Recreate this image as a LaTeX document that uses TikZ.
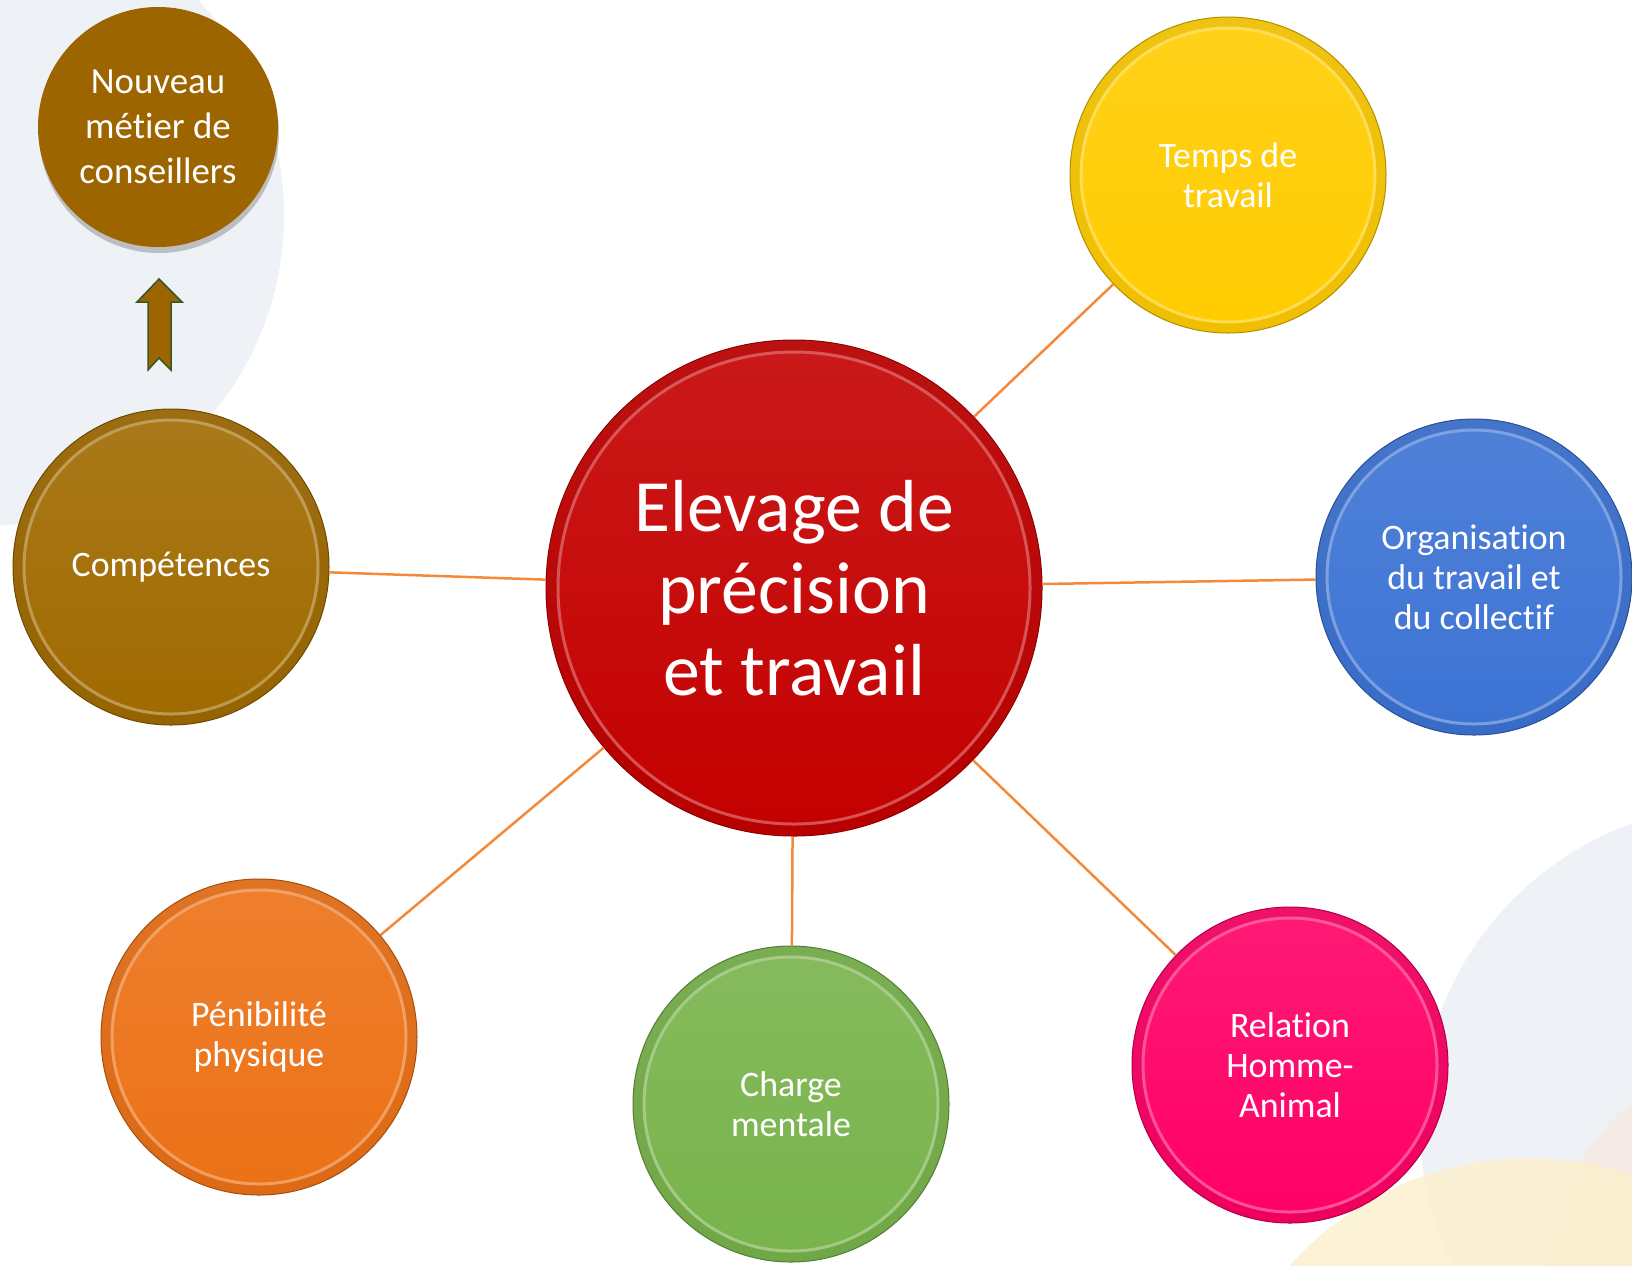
\documentclass[tikz,border=0pt]{standalone}
\usepackage{fontspec}
\setmainfont{Carlito}[Ligatures=CommonOff]
\usetikzlibrary{shadows}

\definecolor{bgblue}{HTML}{EEF2F7}
\definecolor{bgpink}{HTML}{F5EBE6}
\definecolor{bgcream}{HTML}{FCEFCC}
\definecolor{linkorange}{HTML}{F4893A}
\definecolor{centrered}{HTML}{C40000}
\definecolor{tempsyellow}{HTML}{FFCC00}
\definecolor{orgblue}{HTML}{3C73D4}
\definecolor{relpink}{HTML}{FF0066}
\definecolor{chargegreen}{HTML}{78B34B}
\definecolor{peniorange}{HTML}{EC7116}
\definecolor{compbrown}{HTML}{A06A00}
\definecolor{nouvbrown}{HTML}{9C6500}
\definecolor{arrowgreen}{HTML}{375623}

\begin{document}
\begin{tikzpicture}[x=1bp, y=-1bp,
  bubble/.style n args={3}{circle, inner sep=0pt, minimum size=#2,
    top color=#1!90!white, middle color=#1, bottom color=#1,
    draw=#1!70!black, line width=1bp, text=white, align=center,
    path picture={
      \draw[#1!80!black, line width=10bp, opacity=.3]
        (path picture bounding box.center) circle[radius=#3+6bp];
      \draw[#1!55!white, line width=3bp, opacity=.7]
        (path picture bounding box.center) circle[radius=#3];
    }},
  smallbubble/.style={bubble={#1}{316bp}{147bp},
    font=\fontsize{36}{40}\selectfont},
  link/.style={draw=linkorange, line width=2.5bp}]

  % Canvas
  \useasboundingbox (0,0) rectangle (1632,1265);
  \fill[white] (0,0) rectangle (1632,1265);

  % Background bubbles
  \begin{scope}
    \clip (0,0) rectangle (1632,1265);
    \fill[bgblue] (-28,215) circle[radius=312bp];
    \fill[bgblue] (1740,1125) circle[radius=320bp];
    \fill[bgpink] (1800,1300) circle[radius=260bp];
    \fill[bgcream, opacity=.8] (1530,1480) circle[radius=322bp];
  \end{scope}

  % Centre
  \node[bubble={centrered}{496bp}{236bp}, font=\fontsize{74}{82}\selectfont]
    (centre) at (794,588) {Elevage de\\précision\\et travail};

  % Themes
  \node[smallbubble=tempsyellow] (temps) at (1228,175) {Temps de\\travail};
  \node[smallbubble=orgblue] (orga) at (1474,577)
    {Organisation\\du travail et\\du collectif};
  \node[smallbubble=relpink] (relation) at (1290,1065)
    {Relation\\Homme-\\Animal};
  \node[smallbubble=chargegreen] (charge) at (791,1104) {Charge\\mentale};
  \node[smallbubble=peniorange] (penibilite) at (259,1037)
    {Pénibilité\\physique};
  \node[smallbubble=compbrown] (competences) at (171,567) {Compétences};

  % Links
  \draw[link] (centre) -- (temps);
  \draw[link] (centre) -- (orga);
  \draw[link] (centre) -- (relation);
  \draw[link] (centre) -- (charge);
  \draw[link] (centre) -- (penibilite);
  \draw[link] (centre) -- (competences);

  % New job
  \node[circle, inner sep=0pt, minimum size=240bp, fill=nouvbrown,
        text=white, align=center, font=\fontsize{37}{45}\selectfont,
        drop shadow={shadow xshift=1bp, shadow yshift=-6bp, opacity=.45}]
    (nouveau) at (158,127) {Nouveau\\métier de\\conseillers};

  % Up arrow
  \draw[fill=nouvbrown, draw=arrowgreen, line width=1.5bp, line join=miter]
    (159,279) -- (182,302) -- (171,302) -- (171,370) -- (159,358)
    -- (148,370) -- (148,302) -- (137,302) -- cycle;
\end{tikzpicture}
\end{document}
